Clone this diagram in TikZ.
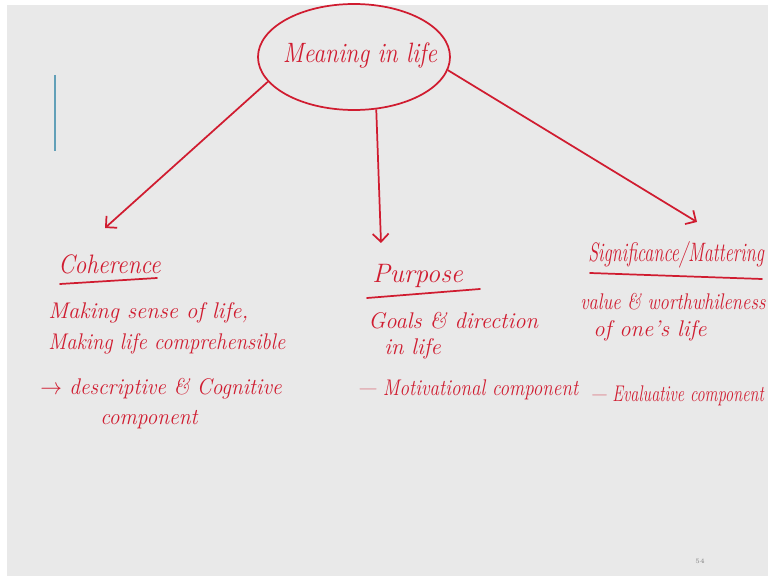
\documentclass[tikz,border=0pt]{standalone}
\usepackage{graphicx}
\usetikzlibrary{shapes.geometric,arrows.meta}
\definecolor{ink}{RGB}{208,28,48}
\definecolor{board}{RGB}{233,233,233}
\definecolor{penblue}{RGB}{98,160,184}
\newcommand\hsq[2]{\scalebox{#1}[1]{#2}}
\tikzset{
  hand/.style={text=ink, font=\itshape\fontsize{17}{20}\selectfont, inner sep=0pt, anchor=base west},
  headtxt/.style={hand, font=\itshape\fontsize{20}{24}\selectfont},
  conn/.style={draw=ink, line width=1.3pt, -{Straight Barb[length=6pt,width=12pt,line width=1.3pt]}},
  uline/.style={draw=ink, line width=1.3pt, line cap=round},
  bubble/.style={ellipse, draw=ink, line width=1.3pt, minimum width=144pt, minimum height=79.5pt, inner sep=0pt}
}
\begin{document}
\begin{tikzpicture}[x=0.75pt,y=-0.75pt]
\useasboundingbox (0,0) rectangle (768,577);
\clip (0,0) rectangle (768,577);
\fill[white] (0,0) rectangle (768,577);
\fill[board] (7,5) rectangle (768,576);
% blue pen mark
\draw[penblue, line width=1.5pt] (55,75) -- (55,151);
% central bubble
\node[bubble] (meaning) at (354,57) {};
\node[hand, font=\itshape\fontsize{21}{25}\selectfont, anchor=base] (mtext) at (360,63) {\hsq{0.85}{Meaning in life}};
% arrow tips
\coordinate (cohTip) at (105,228);
\coordinate (purTip) at (381,243);
\coordinate (sigTip) at (697,222);
\draw[conn] (meaning.196) -- (cohTip);
\draw[conn] (meaning.293) -- (purTip);
\draw[conn] (meaning.352) -- (sigTip);
% Coherence column
\node[headtxt] (coh) at (58,274) {\hsq{0.88}{Coherence}};
\draw[uline] (60,284) -- (157,278);
\node[hand] (c1) at (48,319) {Making sense of life,};
\node[hand] (c2) at (48,350) {\hsq{0.91}{Making life comprehensible}};
\node[hand] (c3) at (40,395) {\hsq{0.94}{$\rightarrow$ descriptive \& Cognitive}};
\node[hand] (c4) at (100,425) {\hsq{0.95}{component}};
% Purpose column
\node[headtxt] (pur) at (372,283) {Purpose};
\draw[uline] (367,298) -- (480,289);
\node[hand] (p1) at (368,329) {Goals \& direction};
\node[hand] (p2) at (384,354) {in life};
\node[hand] (p3) at (357,396) {\hsq{0.84}{--- Motivational component}};
% Significance column
\node[headtxt] (sig) at (588,262) {\hsq{0.68}{Significance/Mattering}};
\draw[uline] (590,273) -- (762,279);
\node[hand] (s1) at (580,310) {\hsq{0.82}{value \& worthwhileness}};
\node[hand] (s2) at (593,337) {of one's life};
\node[hand] (s3) at (590,402) {\hsq{0.72}{--- Evaluative component}};
% page number
\node[text=gray, font=\fontsize{5}{6}\selectfont, inner sep=0pt] (pg) at (700,561) {54};
\end{tikzpicture}
\end{document}
